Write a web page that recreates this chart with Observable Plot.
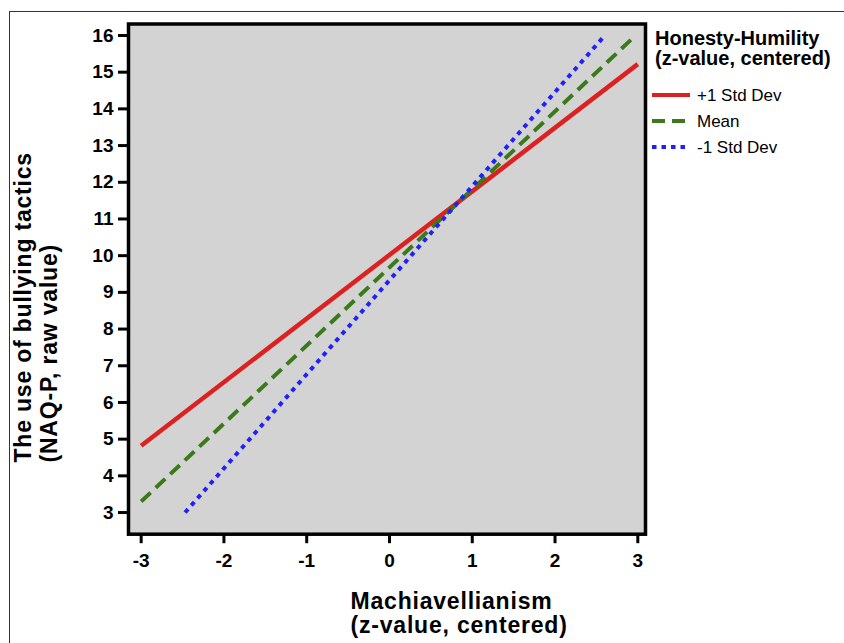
<!DOCTYPE html>
<html>
<head>
<meta charset="utf-8">
<script src="https://cdn.jsdelivr.net/npm/d3@7"></script>
<script src="https://cdn.jsdelivr.net/npm/@observablehq/plot@0.6"></script>
<style>
  html, body { margin: 0; padding: 0; background: #fff; }
  #wrap { position: relative; width: 844px; height: 643px; overflow: hidden; font-family: "Liberation Sans", Arial, sans-serif; }
  #outer { position: absolute; left: 9px; top: 11px; width: 900px; height: 700px; border-left: 1.5px solid #333; border-top: 1.5px solid #333; box-sizing: border-box; }
  #chart { position: absolute; left: 0; top: 0; }
  #legend { position: absolute; left: 0; top: 0; }
</style>
</head>
<body>
<div id="wrap">
  <div id="outer"></div>
  <div id="chart"></div>
  <svg id="legend" width="844" height="643"></svg>
</div>
<script>
// ---- data ----
const series = ["+1 Std Dev", "Mean", "-1 Std Dev"];
const xStart = [-3.0, -3.0, -2.47];
const yStart = [4.82, 3.3, 3.0];
const xEnd = [3.0, 2.94, 2.57];
const yEnd = [15.22, 15.93, 15.92];
const colors = ["#dd2020", "#3b7a1b", "#1f1fff"];
const dashes = [null, "13,7", "4.5,5"];
const xTicks = [-3, -2, -1, 0, 1, 2, 3];
const yTicks = [3, 4, 5, 6, 7, 8, 9, 10, 11, 12, 13, 14, 15, 16];
const xLabel = "Machiavellianism\n(z-value, centered)";
const yLabel = "The use of bullying tactics\n(NAQ-P, raw value)";
const legendTitle = ["Honesty-Humility", "(z-value, centered)"];

// build rows
const rows = [];
series.forEach((s, i) => {
  rows.push({series: s, x: xStart[i], y: yStart[i]});
  rows.push({series: s, x: xEnd[i], y: yEnd[i]});
});

const font = "'Liberation Sans', Arial, sans-serif";

const chart = Plot.plot({
  width: 844,
  height: 643,
  marginLeft: 128,
  marginRight: 199,
  marginTop: 23.5,
  marginBottom: 109.3,
  style: {fontFamily: font, color: "black", background: "transparent", overflow: "visible"},
  x: {domain: [-3.153, 3.093]},
  y: {domain: [2.41, 16.313]},
  color: {domain: series, range: colors},
  marks: [
    Plot.frame({fill: "#d3d3d3"}),
    ...series.map((s, i) => Plot.line(rows.filter(d => d.series === s), {
      x: "x", y: "y", stroke: "series", strokeWidth: i === 0 ? 4.5 : 4,
      strokeDasharray: dashes[i] ?? undefined, strokeLinecap: "butt"
    })),
    Plot.frame({stroke: "black", strokeWidth: 3.5}),
    Plot.axisX({ticks: xTicks, tickSize: 9.5, tickPadding: 10, strokeWidth: 3,
      fontSize: 19, fontWeight: "bold", tickFormat: d => String(d), label: null}),
    Plot.axisY({ticks: yTicks, tickSize: 10, tickPadding: 5, strokeWidth: 3,
      fontSize: 19, fontWeight: "bold", tickFormat: d => String(d), label: null}),
    Plot.text([xLabel], {frameAnchor: "bottom-left", text: d => d, textAnchor: "start",
      lineAnchor: "bottom", lineHeight: 1.043, dx: 222, dy: 98.3,
      fontSize: 23, fontWeight: "bold", fill: "black"}),
    Plot.text([yLabel], {frameAnchor: "bottom-left", text: d => d, textAnchor: "start",
      lineAnchor: "bottom", lineHeight: 1.13, rotate: -90, dx: -72, dy: -71.7,
      fontSize: 23, fontWeight: "bold", fill: "black"})
  ]
});
document.getElementById("chart").appendChild(chart);

// style tweaks for tick labels and axis titles
const sel = d3.select(chart);
sel.selectAll('g[aria-label$="tick label"]').each(function () {
  d3.select(this).attr("font-size", 19).style("font-size", "19px").attr("font-weight", "bold");
  d3.select(this).selectAll("text").style("font-size", "19px").style("font-weight", "bold");
});
sel.selectAll('g[aria-label="text"] text').style("letter-spacing", "0.8px");

// ---- legend ----
const leg = d3.select("#legend").style("font-family", font);
legendTitle.forEach((t, i) => {
  leg.append("text").attr("x", 655).attr("y", 45 + i * 20)
    .attr("font-size", 20).attr("font-weight", "bold").attr("fill", "black").text(t);
});
series.forEach((s, i) => {
  const yy = 95 + i * 26;
  leg.append("line").attr("x1", 652).attr("x2", 690).attr("y1", yy).attr("y2", yy)
    .attr("stroke", colors[i]).attr("stroke-width", 4)
    .attr("stroke-dasharray", dashes[i] ?? null);
  leg.append("text").attr("x", 697).attr("y", yy + 5.5)
    .attr("font-size", 17).attr("fill", "black").text(s);
});
</script>
</body>
</html>
